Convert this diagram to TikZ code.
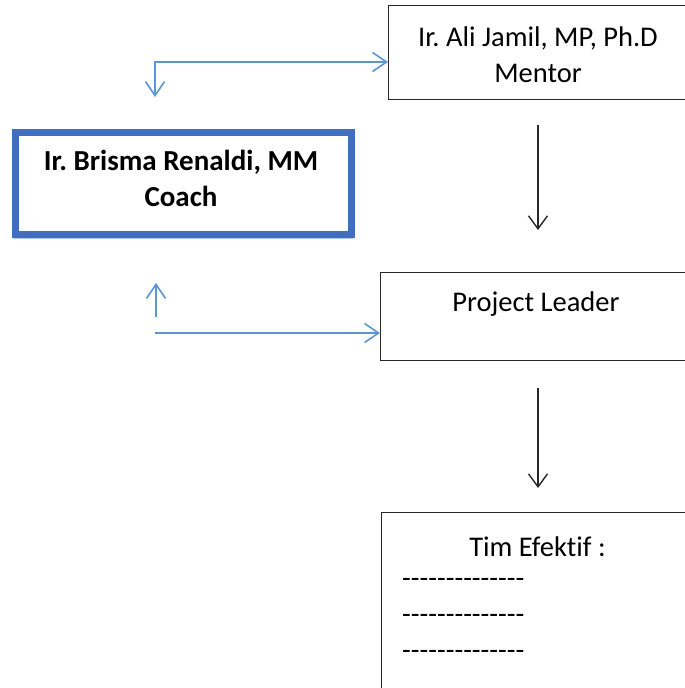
\documentclass[tikz,border=0pt]{standalone}
\usepackage{fontspec}
\setmainfont{Carlito}[Ligatures=NoCommon]
\frenchspacing
\usetikzlibrary{arrows.meta,calc}
\definecolor{linkblue}{RGB}{91,150,212}
\definecolor{framblue}{RGB}{66,110,190}
\definecolor{shadeblue}{RGB}{170,200,235}
\definecolor{ink}{RGB}{40,40,40}
% a run of hyphens kept apart so they are not joined into dashes
\newcommand\hyphenrun{\mbox{-}\mbox{-}\mbox{-}\mbox{-}\mbox{-}\mbox{-}\mbox{-}\mbox{-}\mbox{-}\mbox{-}\mbox{-}\mbox{-}\mbox{-}\mbox{-}}
\tikzset{
  box/.style={draw=ink, line width=1.4pt, fill=white, inner sep=0pt},
  txt/.style={font=\fontsize{28.5}{36}\selectfont, text=black, inner sep=0pt},
  bluelink/.style={draw=linkblue, line width=1.6pt,
    arrows={-Straight Barb[length=14pt,width=19pt,line width=1.6pt]}},
  bluelinks/.style={draw=linkblue, line width=1.6pt,
    arrows={Straight Barb[length=14pt,width=19pt,line width=1.6pt]-Straight Barb[length=14pt,width=19pt,line width=1.6pt]}},
  downlink/.style={draw=ink, line width=1.4pt,
    arrows={-Straight Barb[length=13pt,width=19pt,line width=1.4pt]}},
}
\begin{document}
\begin{tikzpicture}[x=1pt,y=-1pt]
\clip (0,0) rectangle (685,688);
\fill[white] (0,0) rectangle (685,688);

% Mentor
\node[box, anchor=north west, minimum width=302, minimum height=94] (mentor) at (388,5) {};
\node[txt, anchor=base, align=center] (mentortxt) at (538,82) {Ir. Ali Jamil, MP, Ph.D\\Mentor};

% Coach (thick blue frame with soft shadow)
\fill[shadeblue] (14,132) rectangle (353,239);
\node[draw=framblue, line width=7pt, fill=white, anchor=north west,
      minimum width=336, minimum height=102.5, inner sep=0pt] (coach) at (11.5,128.5) {};
\node[txt, font=\fontsize{29}{36}\selectfont\bfseries, anchor=base, align=center] (coachtxt) at (181,206) {Ir. Brisma Renaldi, MM\\Coach};

% Project Leader
\node[box, anchor=north west, minimum width=312, minimum height=88] (pl) at (380,272) {};
\node[txt, anchor=base] (pltxt) at (536,311) {Project Leader};

% Tim Efektif
\node[box, anchor=north west, minimum width=314, minimum height=200] (tim) at (381,512) {};
\node[txt, anchor=base] (timtxt) at (537.5,556) {Tim Efektif :};
\node[txt, anchor=base west, align=left] (timlist) at (402,659) {\hyphenrun\\\hyphenrun\\\hyphenrun};

% free ends of the connectors
\coordinate (bend) at (155,62);
\coordinate (coachin) at (155,97);
\coordinate (upfrom) at (156,317);
\coordinate (upto) at (156,283);
\coordinate (plfrom) at (155,333);
\coordinate (m1) at (538,125);
\coordinate (m2) at (538,230);
\coordinate (p1) at (538,388);
\coordinate (p2) at (538,488);

% blue links
\draw[bluelinks] (coachin) -- (bend) -- (mentor.west |- bend);
\draw[bluelink] (upfrom) -- (upto);
\draw[bluelink] (plfrom) -- (pl.west |- plfrom);

% downward arrows
\draw[downlink] (m1) -- (m2);
\draw[downlink] (p1) -- (p2);
\end{tikzpicture}
\end{document}
